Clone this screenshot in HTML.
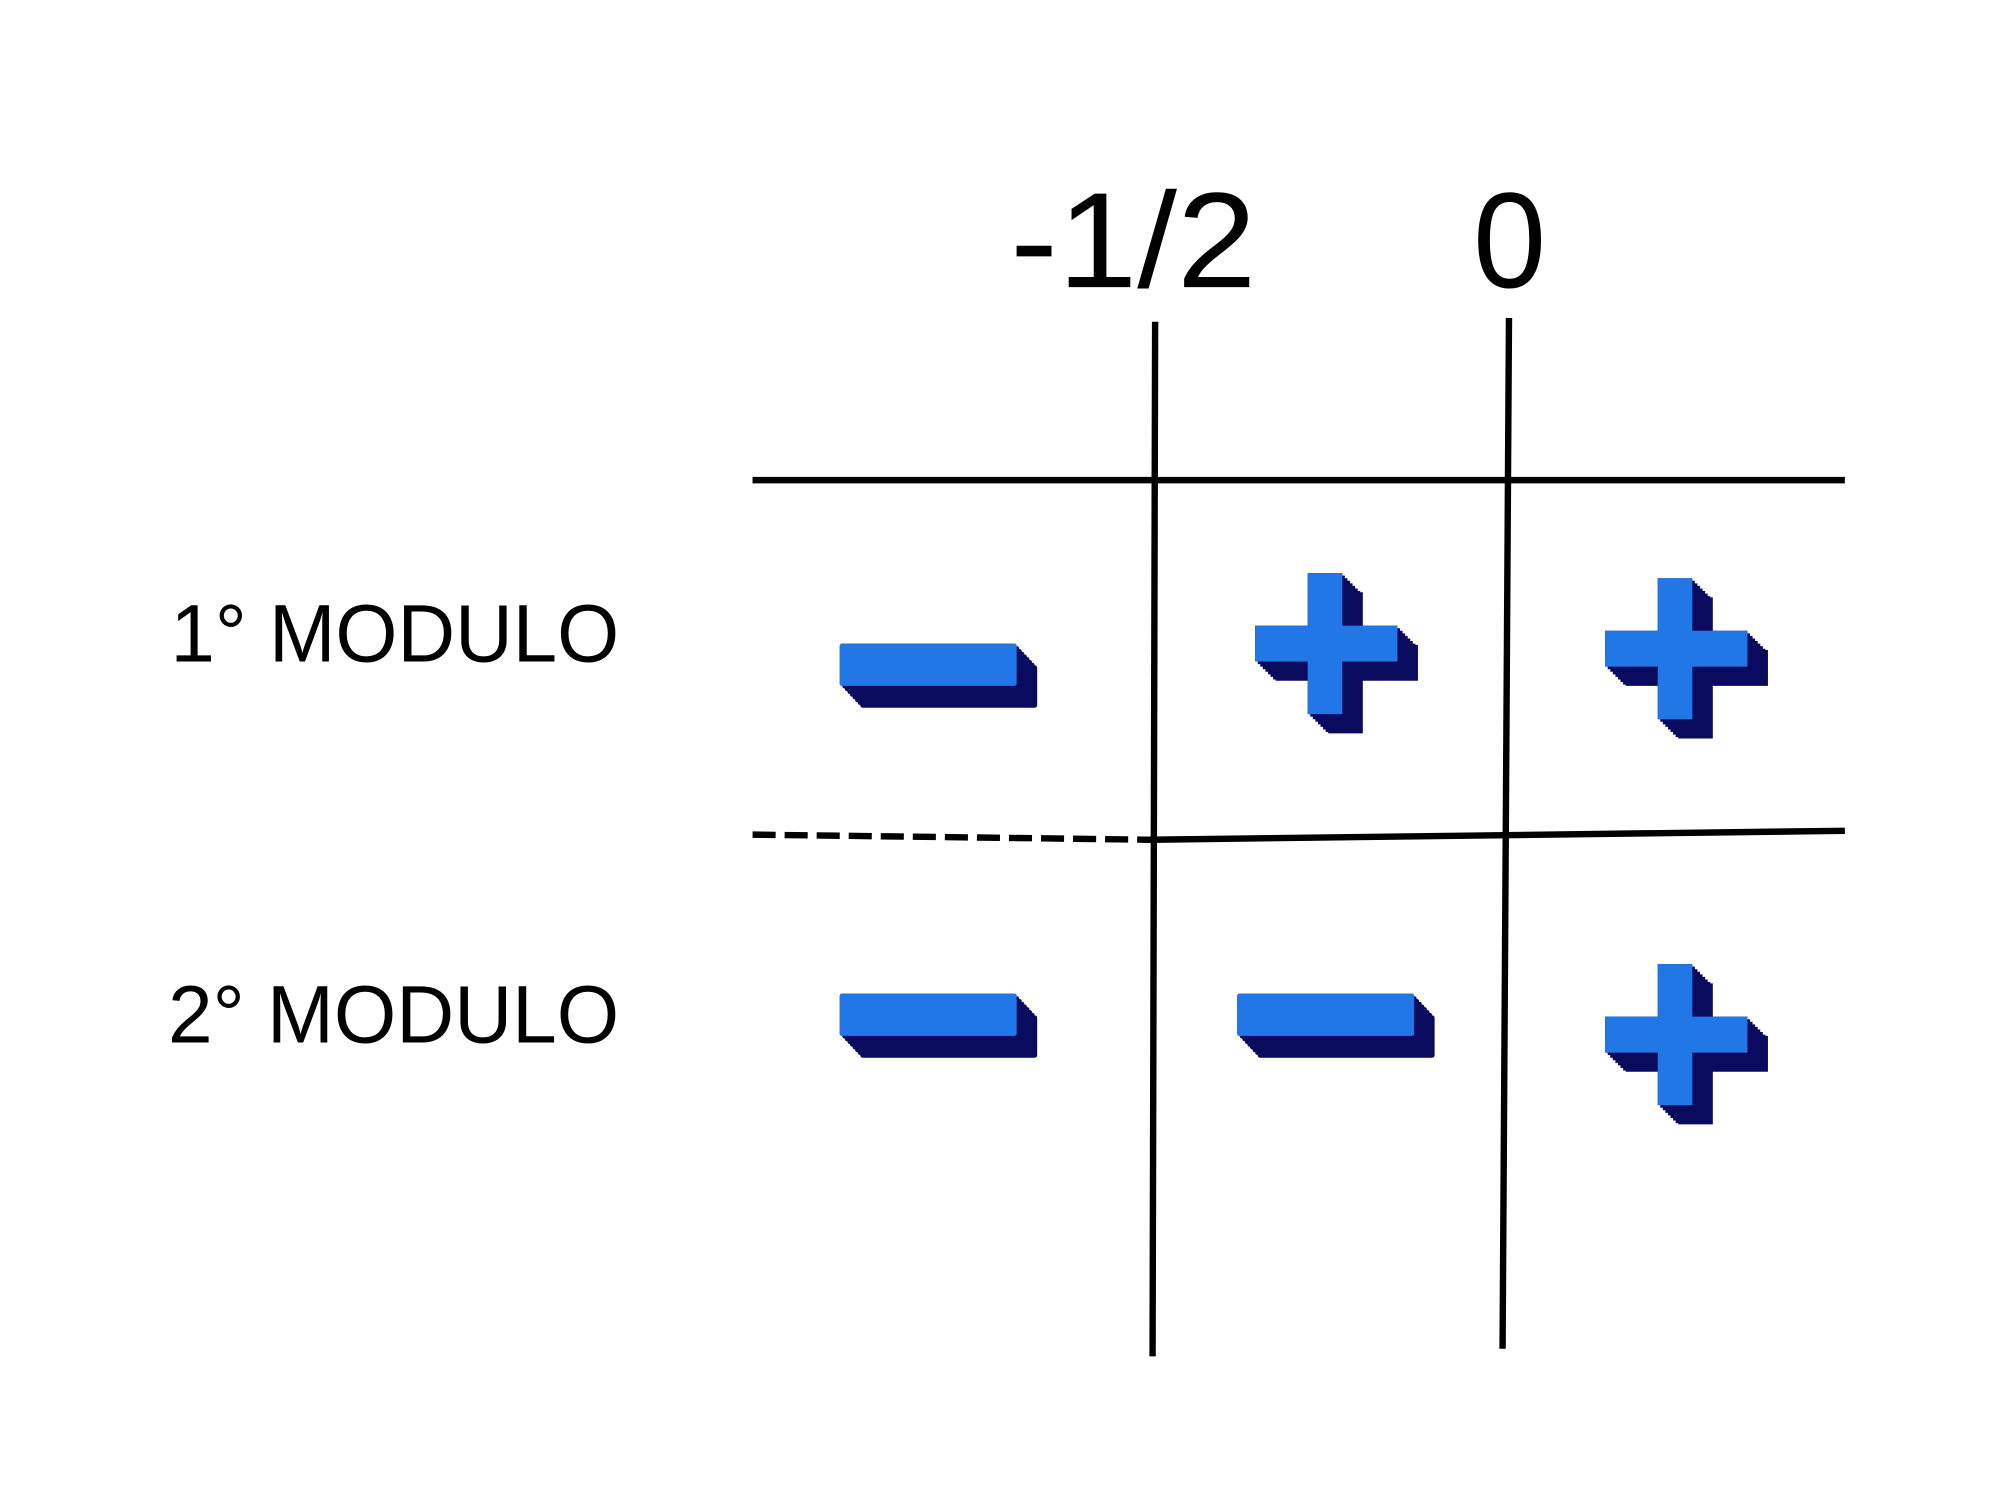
<!DOCTYPE html>
<html><head><meta charset="utf-8"><style>
html,body{margin:0;padding:0;background:#fff;width:2000px;height:1500px;overflow:hidden}
svg{display:block}
</style></head><body>
<svg width="2000" height="1500" viewBox="0 0 1560 1170" xmlns="http://www.w3.org/2000/svg">
<defs>
<path id="minus" d="M2 0 H136 Q138 0 138 2 V31 Q138 33 136 33 H2 Q0 33 0 31 V2 Q0 0 2 0 Z"/>
<path id="plus" d="M41 0 H68 V41 H111 V69 H68 V110 H41 V69 H0 V41 H41 Z" stroke-linejoin="round"/>
<g id="m3">
 <g fill="#0a0a5e">
  <use href="#minus" x="0" y="0"/><use href="#minus" x="2" y="2.1"/><use href="#minus" x="4" y="4.2"/><use href="#minus" x="6" y="6.4"/><use href="#minus" x="8" y="8.5"/><use href="#minus" x="10" y="10.6"/><use href="#minus" x="12" y="12.8"/><use href="#minus" x="14" y="14.9"/><use href="#minus" x="16" y="17"/>
 </g>
 <use href="#minus" fill="#2277e6"/>
</g>
<g id="p3">
 <g fill="#0a0a5e">
  <use href="#plus" x="0" y="0"/><use href="#plus" x="2" y="2"/><use href="#plus" x="4" y="4"/><use href="#plus" x="6" y="6"/><use href="#plus" x="8" y="8"/><use href="#plus" x="10" y="10"/><use href="#plus" x="12" y="12"/><use href="#plus" x="14" y="14"/><use href="#plus" x="16" y="15"/>
 </g>
 <use href="#plus" fill="#2277e6"/>
</g>
</defs>
<g font-family="Liberation Sans, sans-serif" fill="#000">
 <text x="788" y="224" font-size="106" textLength="192" lengthAdjust="spacingAndGlyphs">-1/2</text>
 <text x="1149" y="224" font-size="106" textLength="57" lengthAdjust="spacingAndGlyphs">0</text>
 <text x="133" y="516" font-size="64" textLength="350" lengthAdjust="spacingAndGlyphs">1° MODULO</text>
 <text x="131" y="813" font-size="64" textLength="352" lengthAdjust="spacingAndGlyphs">2° MODULO</text>
</g>
<g stroke="#000" stroke-width="5" fill="none">
 <line x1="901" y1="251" x2="899" y2="1058"/>
 <line x1="1177" y1="248" x2="1172" y2="1052"/>
 <line x1="587" y1="374.5" x2="1439" y2="374.5"/>
 <line x1="587" y1="651" x2="897" y2="655" stroke-dasharray="18,7"/>
 <line x1="897" y1="655" x2="1439" y2="648"/>
</g>
<use href="#m3" x="655" y="502"/>
<use href="#p3" x="979" y="447"/>
<use href="#p3" x="1252" y="451"/>
<use href="#m3" x="655" y="775"/>
<use href="#m3" x="965" y="775"/>
<use href="#p3" x="1252" y="752"/>
</svg>
</body></html>
